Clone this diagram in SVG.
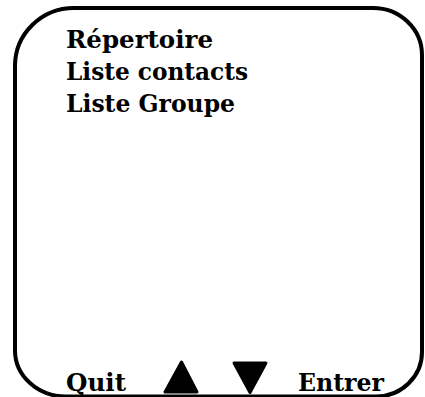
<svg xmlns="http://www.w3.org/2000/svg" width="425" height="397" viewBox="0 0 425 397">
  <style>
    .frame { fill: none; stroke: #000; stroke-width: 4; }
    .t { font-family: "DejaVu Serif", "Liberation Serif", serif; font-weight: bold; font-size: 24px; fill: #000; }
    .tri { fill: #000; stroke: #000; stroke-width: 3; stroke-linejoin: round; }
  </style>
  <g id="screen">
    <path class="frame" d="M 74 8 L 373 8 A 49 47 0 0 1 422 55 L 422 352 A 46 44.5 0 0 1 376 396.5 L 66 396.5 A 51 46 0 0 1 15 350.5 L 15 66 A 59 58 0 0 1 74 8 Z"/>
  </g>
  <g id="menu">
    <text class="t" x="66" y="48" textLength="147" lengthAdjust="spacingAndGlyphs">Répertoire</text>
    <text class="t" x="66" y="80" textLength="182" lengthAdjust="spacingAndGlyphs">Liste contacts</text>
    <text class="t" x="66" y="112" textLength="169" lengthAdjust="spacingAndGlyphs">Liste Groupe</text>
  </g>
  <g id="softkeys">
    <text class="t" x="66" y="391" textLength="60" lengthAdjust="spacingAndGlyphs">Quit</text>
    <path id="up" class="tri" d="M 181.5 362 L 197 392 L 165 392 Z"/>
    <path id="down" class="tri" d="M 234 363 L 266 363 L 250 392.5 Z"/>
    <text class="t" x="298" y="391" textLength="86" lengthAdjust="spacingAndGlyphs">Entrer</text>
  </g>
</svg>
